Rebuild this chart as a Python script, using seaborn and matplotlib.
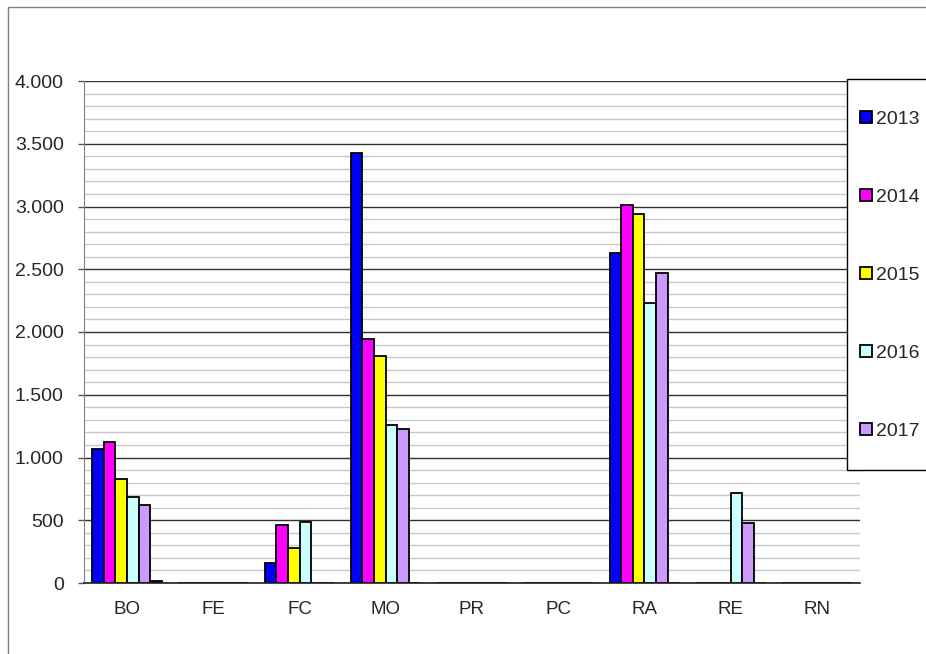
import matplotlib
matplotlib.use("Agg")
import matplotlib.pyplot as plt
import matplotlib.ticker as mticker
from matplotlib.patches import Rectangle
import pandas as pd
import seaborn as sns

categories = ["BO", "FE", "FC", "MO", "PR", "PC", "RA", "RE", "RN"]
years = ["2013", "2014", "2015", "2016", "2017", "2018"]
v2013 = [1065, 0, 157, 3424, 0, 0, 2627, 0, 0]
v2014 = [1124, 0, 462, 1942, 0, 0, 3010, 0, 0]
v2015 = [831, 0, 276, 1809, 0, 0, 2940, 0, 0]
v2016 = [688, 0, 489, 1259, 0, 0, 2229, 720, 0]
v2017 = [624, 0, 0, 1230, 0, 0, 2468, 476, 0]
v2018 = [12, 0, 0, 0, 0, 0, 0, 0, 0]
colors = ["#0000FF", "#FF00FF", "#FFFF00", "#CCFFFF", "#CC99FF", "#800000"]

series = [v2013, v2014, v2015, v2016, v2017, v2018]
rows = []
for y, vals in zip(years, series):
    for c, v in zip(categories, vals):
        rows.append({"cat": c, "year": y, "value": v})
df = pd.DataFrame(rows)

sns.set_style("white")
plt.rcParams["font.family"] = ["Liberation Sans", "DejaVu Sans"]

fig = plt.figure(figsize=(9.26, 6.54), dpi=100)
ax = fig.add_axes([84 / 926, 1 - 583 / 654, 776 / 926, 502 / 654])

sns.barplot(data=df, x="cat", y="value", hue="year", order=categories,
            hue_order=years, palette=colors, width=0.81, gap=0,
            edgecolor="black", linewidth=1.3, saturation=1, ax=ax)

ax.set_ylim(0, 4000)
ax.set_xlim(-0.5, len(categories) - 0.5)
ax.yaxis.set_major_locator(mticker.MultipleLocator(500))
ax.yaxis.set_minor_locator(mticker.MultipleLocator(100))
ax.yaxis.set_major_formatter(mticker.FuncFormatter(lambda v, p: f"{int(v):,}".replace(",", ".")))
ax.grid(axis="y", which="minor", color="#c8c8c8", linewidth=1.0)
ax.grid(axis="y", which="major", color="#303030", linewidth=1.0)
ax.set_axisbelow(True)

ax.set_xticks([i - 0.5 for i in range(len(categories) + 1)], minor=True)
ax.set_xticks(range(len(categories)))
ax.set_xticklabels(categories)
ax.tick_params(axis="x", which="major", length=0, labelsize=13.5, pad=13)
ax.tick_params(axis="x", which="minor", length=5, width=1, color="#555555", direction="out")
ax.tick_params(axis="y", which="major", length=4.5, width=1, color="#555555", labelsize=14,
               direction="out", left=True, pad=10)
ax.tick_params(axis="y", which="minor", length=0)
ax.set_xlabel("")
ax.set_ylabel("")

for s in ["top", "right"]:
    ax.spines[s].set_visible(False)
ax.spines["left"].set_color("#808080")
ax.spines["bottom"].set_color("#202020")
ax.spines["bottom"].set_linewidth(1.2)

handles, labels = ax.get_legend_handles_labels()
ax.get_legend().remove()

# legend box drawn by hand, entries placed inside it
fig.patches.append(Rectangle((847 / 926, 1 - 470 / 654), 0.3, 391 / 654,
                             transform=fig.transFigure, facecolor="white",
                             edgecolor="black", linewidth=1.0, zorder=5))
leg = fig.legend(handles[:5], labels[:5], loc="upper left",
                 bbox_to_anchor=(860 / 926, 1 - 111 / 654),
                 frameon=False, fontsize=14, handlelength=0.6, handleheight=0.6,
                 handletextpad=0.2, labelspacing=3.13, borderpad=0,
                 borderaxespad=0)
leg.set_zorder(6)

fig.patches.append(Rectangle((8 / 926, -0.1), 1.2, 1 - 7 / 654 + 0.1,
                             transform=fig.transFigure, fill=False,
                             edgecolor="#808080", linewidth=1.0))

fig.savefig("out.png", dpi=100)
